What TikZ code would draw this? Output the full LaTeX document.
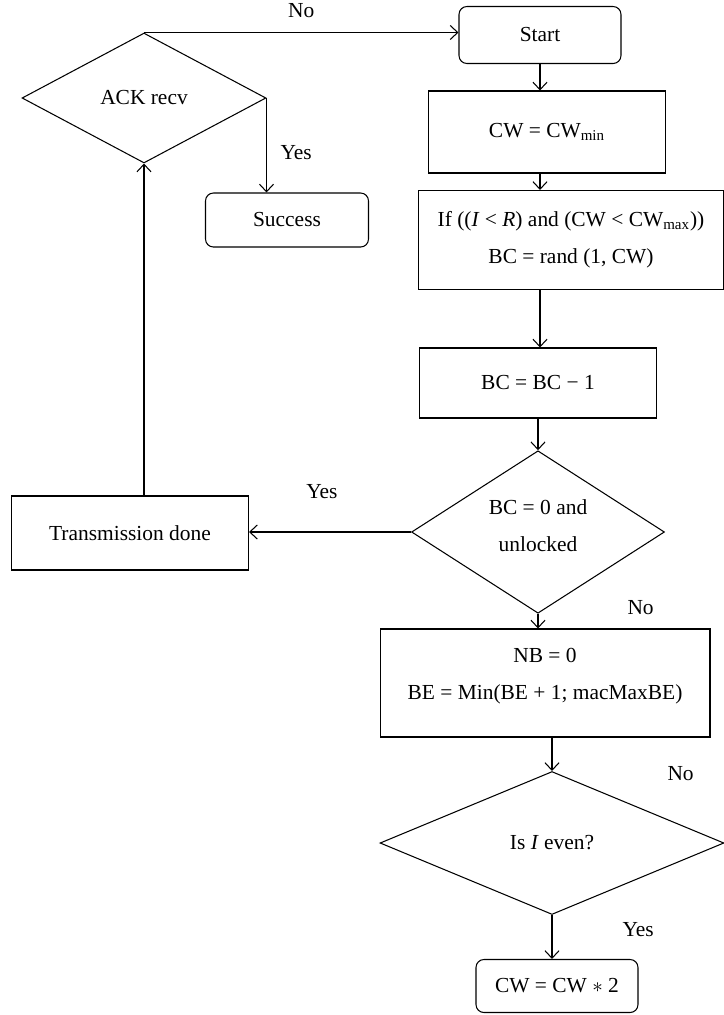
\documentclass[tikz,border=0pt]{standalone}
\usepackage{fontspec}
\setmainfont{Liberation Serif}
\usetikzlibrary{positioning,shapes.geometric,arrows.meta}

\begin{document}
\begin{tikzpicture}[x=0.02cm,y=-0.02cm,line width=0.6pt,
    font=\fontsize{12.2}{21}\selectfont,
    box/.style={draw,rectangle,align=center,inner sep=0pt},
    rbox/.style={box,rounded corners=4.5pt},
    decision/.style={draw,diamond,align=center,inner sep=0pt},
    lbl/.style={inner sep=0pt},
    flow/.style={-{Straight Barb[length=1.5mm,width=2.8mm]}}]

    \useasboundingbox (0,0) rectangle (724,1015);

    % right column
    \node[rbox,minimum width=3.24cm,minimum height=1.14cm] (start) at (540,35) {Start};
    \node[box,minimum width=4.74cm,minimum height=1.64cm] (cwmin) at (547,132) {CW = CW\textsubscript{min}};
    \node[box,minimum width=6.1cm,minimum height=1.98cm] (ifbox) at (571,240)
      {If ((\textit{I} < \textit{R}) and (CW < CW\textsubscript{max}))\\BC = rand (1, CW)};
    \node[box,minimum width=4.74cm,minimum height=1.4cm] (bcdec) at (538,383) {BC = BC − 1};
    \node[decision,minimum width=5.06cm,minimum height=2.86cm] (bczero) at (538,532)
      {BC = 0 and\\unlocked\rule[-7pt]{0pt}{0pt}};
    \node[box,minimum width=6.6cm,minimum height=2.16cm] (nb) at (545,683)
      {NB = 0\\BE = Min(BE + 1; macMaxBE)\rule[-10.5pt]{0pt}{0pt}};
    \node[decision,minimum width=6.88cm,minimum height=2.86cm] (ieven) at (552,843) {Is \textit{I} even?};
    \node[rbox,minimum width=3.24cm,minimum height=1.06cm] (cwdouble) at (557,986) {CW = CW $\ast$ 2};

    % left column
    \node[decision,minimum width=4.88cm,minimum height=2.6cm] (ack) at (144,98) {ACK recv};
    \node[rbox,minimum width=3.26cm,minimum height=1.08cm] (success) at (287,220) {Success};
    \node[box,minimum width=4.74cm,minimum height=1.48cm] (txdone) at (130,533) {Transmission done};

    % connectors
    \draw[flow] (ack.north) -- (ack.north -| start.west)
      node[lbl,midway,above=0.28cm] {No};
    \draw[flow] (ack.east) -- (ack.east |- success.north)
      node[lbl,pos=0.58,right=0.27cm] {Yes};
    \draw[flow] (start.south) -- (start.south |- cwmin.north);
    \draw[flow] (start.south |- cwmin.south) -- (start.south |- ifbox.north);
    \draw[flow] (start.south |- ifbox.south) -- (start.south |- bcdec.north);
    \draw[flow] (bcdec.south) -- (bczero.north);
    \draw[flow] (bczero.west) -- (bczero.west -| txdone.east)
      node[lbl,pos=0.55,above=0.66cm] {Yes};
    \draw[flow] (ack.south |- txdone.north) -- (ack.south);
    \draw[flow] (bczero.south) -- (bczero.south |- nb.north)
      node[lbl,pos=0,right=1.78cm,yshift=0.12cm] {No};
    \draw[flow] (ieven.north |- nb.south) -- (ieven.north)
      node[lbl,pos=1,right=2.3cm,yshift=-0.06cm] {No};
    \draw[flow] (ieven.south) -- (ieven.south |- cwdouble.north)
      node[lbl,pos=0.34,right=1.4cm] {Yes};

\end{tikzpicture}
\end{document}
